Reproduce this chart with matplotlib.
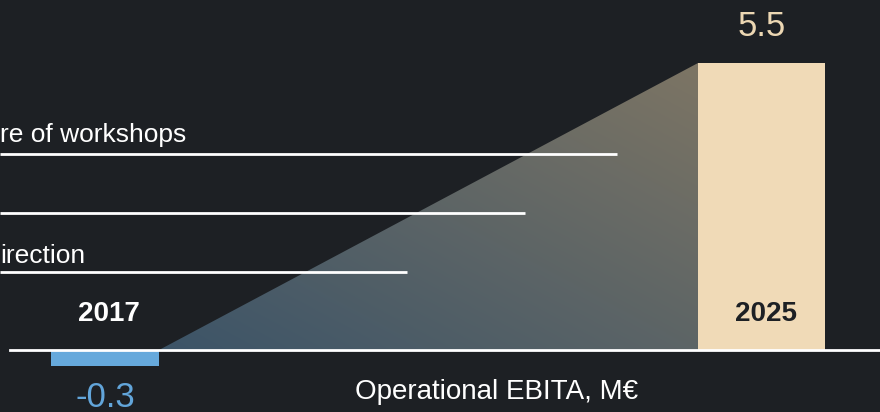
import numpy as np
import matplotlib
matplotlib.use("Agg")
import matplotlib.pyplot as plt
from matplotlib.colors import LinearSegmentedColormap
from matplotlib.patches import Polygon

plt.rcParams['font.family'] = ['Liberation Sans', 'DejaVu Sans']

# ---- data ----
categories = ['2017', '2025']
values = [-0.3, 5.5]
value_labels = ['-0.3', '5.5']
row_labels = ['re of workshops', '', 'irection']
axis_title = 'Operational EBITA, M\u20ac'

# ---- style ----
BG = '#1d2024'
BAR_COLORS = ['#66a9dc', '#f0dab7']
LABEL_COLORS = ['#62a5da', '#ecd7b3']
CAT_COLORS = ['white', '#1d2024']
bar_widths = [0.1645, 0.1934]

W, H = 880, 412
fig = plt.figure(figsize=(W / 100, H / 100), dpi=100, facecolor=BG)
ax = fig.add_axes([0, 0, 1, 1], facecolor=BG)
ax.axis('off')

x = np.arange(len(categories))
bars = ax.bar(x, values, width=bar_widths, color=BAR_COLORS, zorder=3)

# gradient triangle between bars
x0 = x[0] + bar_widths[0] / 2
x1 = x[1] - bar_widths[1] / 2
ytop = values[1]
cmap = LinearSegmentedColormap.from_list('g', ['#3c5468', '#7d7564'])
nx, ny = 300, 300
u = np.linspace(0, 1, nx)[None, :]
v = np.linspace(0, 1, ny)[:, None]
t = 0.5 * u + 0.5 * v
im = ax.imshow(t, cmap=cmap, origin='lower', extent=[x0, x1, 0, ytop],
               aspect='auto', interpolation='bilinear', zorder=1)
tri = Polygon([[x0, 0], [x1, ytop], [x1, 0]], closed=True, transform=ax.transData,
              facecolor='none', edgecolor='none')
ax.add_patch(tri)
im.set_clip_path(tri)
ax.set_xlim(-0.16, 1.1805)
ax.set_ylim(-1.188, 6.707)

# baseline
ax.axhline(0, xmin=10 / W, xmax=1, color='white', lw=2, zorder=4)

# category labels inside
for xi, cat, col in zip(x, categories, CAT_COLORS):
    ax.annotate(cat, (xi, 0.69), xytext=(3, 0), textcoords='offset points',
                ha='center', va='center', color=col,
                fontsize=20, fontweight='bold', zorder=5)

# value labels
for xi, val, lab, col in zip(x, values, value_labels, LABEL_COLORS):
    off = 26 if val >= 0 else -23
    ax.annotate(lab, (xi, val), xytext=(0, off), textcoords='offset points',
                ha='center', va='center', color=col, fontsize=25, zorder=5)

# left rows (cropped panel)
line_y = [154, 213, 272]
line_end = [617, 525, 407]
text_base = [142, 204, 263]
for lab, ly, le, tb in zip(row_labels, line_y, line_end, text_base):
    ax.plot([0, le / W], [1 - ly / H, 1 - ly / H], transform=ax.transAxes,
            color='white', lw=2, solid_capstyle='butt', zorder=6)
    if lab:
        ax.text(0.0, 1 - tb / H, lab, transform=ax.transAxes, ha='left',
                va='baseline', color='white', fontsize=19, zorder=6)

fig.text(497 / W, 1 - 392 / H, axis_title, ha='center', va='center',
         color='white', fontsize=20)

fig.savefig('out.png', dpi=100, facecolor=BG)
